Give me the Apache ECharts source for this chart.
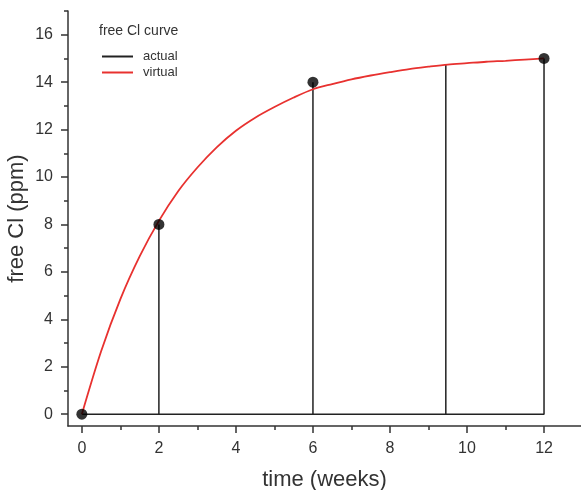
<!DOCTYPE html>
<html>
<head>
<meta charset="utf-8">
<script src="https://cdn.jsdelivr.net/npm/echarts@6/dist/echarts.min.js"></script>
<style>
  html, body { margin: 0; padding: 0; background: #fff; }
  #chart { width: 581px; height: 490px; }
</style>
</head>
<body>
<div id="chart"></div>
<script>
// Measured free chlorine (ppm) at the sampling weeks
const measuredWeeks = [0, 2, 6, 12];
const measuredCl = [0, 8, 14, 15];

// Drop lines ("actual"): x positions and their top values
const dropWeeks = [2, 6, 9.45, 12];
const dropTops = [8, 14, 14.75, 15];

// Fitted saturation curve ("virtual")
const curveWeeks = [0, 0.5, 1, 1.5, 2, 2.5, 3, 3.5, 4, 4.5, 5, 5.5, 6, 6.5, 7, 7.5, 8, 8.5, 9, 9.5, 10, 10.5, 11, 11.5, 12];
const curveCl = [0, 2.65, 4.85, 6.65, 8.15, 9.4, 10.4, 11.25, 11.95, 12.5, 12.95, 13.35, 13.7, 13.92, 14.12, 14.28, 14.42, 14.55, 14.65, 14.74, 14.8, 14.86, 14.9, 14.95, 15.0];

// Axis ticks
const xMajorTicks = [0, 2, 4, 6, 8, 10, 12];
const xMinorTicks = [1, 3, 5, 7, 9, 11];
const yMajorTicks = [0, 2, 4, 6, 8, 10, 12, 14, 16];
const yMinorTicks = [1, 3, 5, 7, 9, 11, 13, 15, 17];

const ink = '#333';
const fontFamily = 'Liberation Sans, Arial, sans-serif';

// Baseline plus vertical drops, traced as one polyline
const dropPath = [[0, 0]];
dropWeeks.forEach((w, i) => {
  dropPath.push([w, 0], [w, dropTops[i]], [w, 0]);
});

const chart = echarts.init(document.getElementById('chart'), null, { renderer: 'canvas' });

const axisBase = {
  type: 'value',
  splitLine: { show: false },
  axisLine: { onZero: false, lineStyle: { color: ink, width: 1.5 } }
};

chart.setOption({
  animation: false,
  backgroundColor: '#fff',
  textStyle: { fontFamily },
  title: {
    text: 'free Cl curve',
    left: 99,
    top: 24,
    padding: 0,
    textStyle: { fontSize: 14, fontWeight: 'normal', color: ink, fontFamily }
  },
  legend: {
    data: ['actual', 'virtual'],
    orient: 'vertical',
    left: 101,
    top: 50,
    padding: 0,
    itemWidth: 31,
    itemHeight: 14,
    itemGap: 3,
    itemStyle: { opacity: 0 },
    textStyle: { fontSize: 13, color: ink, padding: [0, 0, 0, 5], fontFamily }
  },
  grid: { left: 68, right: 0, top: 11, bottom: 64, containLabel: false, outerBoundsMode: 'none' },
  xAxis: [
    Object.assign({}, axisBase, {
      position: 'bottom',
      min: -0.36,
      max: 12.96,
      name: 'time (weeks)',
      nameLocation: 'middle',
      nameGap: 43,
      nameMoveOverlap: false,
      nameTextStyle: { fontSize: 22, color: ink, fontFamily },
      axisTick: { customValues: xMajorTicks, length: 7, lineStyle: { color: ink, width: 1.5 } },
      axisLabel: { customValues: xMajorTicks, fontSize: 16, color: ink, margin: 15, fontFamily }
    }),
    Object.assign({}, axisBase, {
      position: 'bottom',
      min: -0.36,
      max: 12.96,
      axisLine: { show: false, onZero: false },
      axisTick: { customValues: xMinorTicks, length: 4, lineStyle: { color: ink, width: 1.5 } },
      axisLabel: { show: false }
    })
  ],
  yAxis: [
    Object.assign({}, axisBase, {
      position: 'left',
      min: -0.5,
      max: 17,
      name: 'free Cl (ppm)',
      nameLocation: 'middle',
      nameGap: 40,
      nameMoveOverlap: false,
      nameTextStyle: { fontSize: 22, color: ink, fontFamily },
      axisTick: { customValues: yMajorTicks, length: 7, lineStyle: { color: ink, width: 1.5 } },
      axisLabel: { customValues: yMajorTicks, fontSize: 16, color: ink, margin: 15, fontFamily }
    }),
    Object.assign({}, axisBase, {
      position: 'left',
      min: -0.5,
      max: 17,
      axisLine: { show: false, onZero: false },
      axisTick: { customValues: yMinorTicks, length: 4, lineStyle: { color: ink, width: 1.5 } },
      axisLabel: { show: false }
    })
  ],
  series: [
    {
      name: 'actual',
      type: 'line',
      data: dropPath,
      symbol: 'none',
      clip: false,
      z: 2,
      color: '#222',
      lineStyle: { color: '#222', width: 1.5 }
    },
    {
      name: 'virtual',
      type: 'line',
      data: curveWeeks.map((w, i) => [w, curveCl[i]]),
      smooth: 0.3,
      symbol: 'none',
      clip: false,
      z: 3,
      color: '#e8312f',
      lineStyle: { color: '#e8312f', width: 1.8 }
    },
    {
      name: 'measured',
      type: 'scatter',
      data: measuredWeeks.map((w, i) => [w, measuredCl[i]]),
      symbol: 'circle',
      symbolSize: 11,
      clip: false,
      z: 4,
      itemStyle: { color: '#000' }
    }
  ]
});
</script>
</body>
</html>
